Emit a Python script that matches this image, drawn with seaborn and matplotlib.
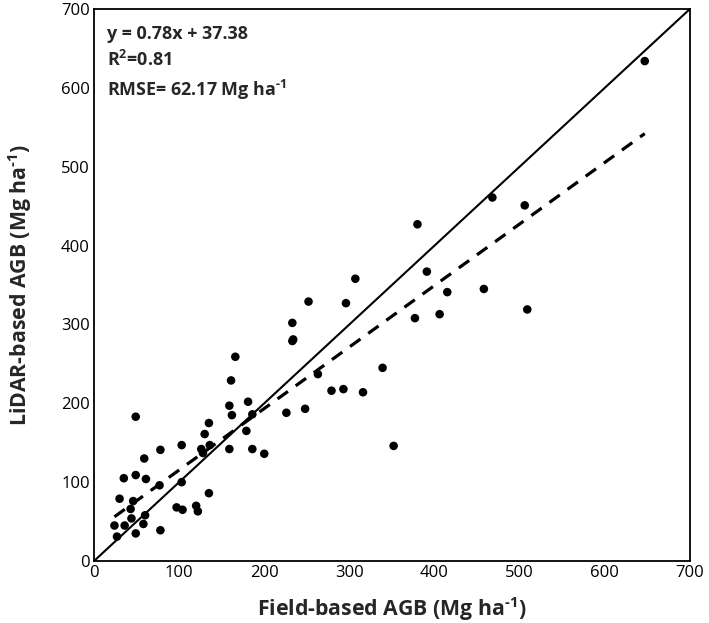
import numpy as np
import matplotlib
matplotlib.use("Agg")
import matplotlib.pyplot as plt
import seaborn as sns

# field-based vs LiDAR-based AGB (Mg/ha)
field_agb = [647, 468, 506, 380, 391, 307, 252, 296, 233, 234, 233, 415, 458, 509,
             377, 406, 339, 263, 279, 293, 316, 166, 161, 159, 181, 162, 186, 226,
             248, 135, 130, 179, 136, 103, 78, 126, 128, 159, 186, 200, 49, 59,
             35, 49, 61, 77, 103, 30, 46, 43, 44, 60, 24, 36, 58, 27, 49, 78,
             97, 104, 120, 122, 135, 352]
lidar_agb = [634, 461, 451, 427, 367, 358, 329, 327, 302, 281, 279, 341, 345, 319,
             308, 313, 245, 237, 216, 218, 214, 259, 229, 197, 202, 185, 186, 188,
             193, 175, 161, 165, 147, 147, 141, 142, 137, 142, 142, 136, 183, 130,
             105, 109, 104, 96, 100, 79, 76, 66, 54, 58, 45, 45, 47, 31, 35, 39,
             68, 65, 70, 63, 86, 146]

slope = 0.78
intercept = 37.38
r2 = 0.81
rmse = 62.17

sns.set_theme(style="white")
plt.rcParams['font.family'] = ['Open Sans', 'DejaVu Sans']
plt.rcParams['mathtext.fontset'] = 'custom'
plt.rcParams['mathtext.rm'] = 'Open Sans:bold'
plt.rcParams['mathtext.bf'] = 'Open Sans:bold'

fig = plt.figure(figsize=(7.09, 6.23), dpi=100)
ax = fig.add_axes([0.1326, 0.0995, 0.8404, 0.886])

sns.scatterplot(x=field_agb, y=lidar_agb, color='black', s=38, edgecolor='none', ax=ax)

# 1:1 line
ax.plot([0, 700], [0, 700], color='black', lw=1.5)

# fitted regression line over the data range
xs = np.array([min(field_agb), max(field_agb)])
ax.plot(xs, slope * xs + intercept, color='black', lw=2.3, ls=(0, (4, 3)))

ax.set_xlim(0, 700)
ax.set_ylim(0, 700)
ax.set_xticks(range(0, 701, 100))
ax.set_yticks(range(0, 701, 100))
ax.tick_params(length=0, labelsize=12, colors='black', pad=3)
for sp in ax.spines.values():
    sp.set_color('black')
    sp.set_linewidth(1.3)

sup = r'$^{\text{-1}}$'
ax.set_xlabel('Field-based AGB (Mg ha' + sup + ')', fontsize=15.3, fontweight='bold')
ax.set_ylabel('LiDAR-based AGB (Mg ha' + sup + ')', fontsize=15.3, fontweight='bold')
ax.xaxis.set_label_coords(0.5, -0.062)
ax.yaxis.set_label_coords(-0.1, 0.5)

txt = (f'y = {slope}x + {intercept}\n'
       f'R$^{{\\text{{2}}}}$={r2}\n'
       f'RMSE= {rmse} Mg ha' + sup)
ax.text(0.022, 0.971, txt, transform=ax.transAxes, ha='left', va='top',
        fontsize=12.9, fontweight='bold', linespacing=1.42)

fig.savefig('out.png', dpi=100)
